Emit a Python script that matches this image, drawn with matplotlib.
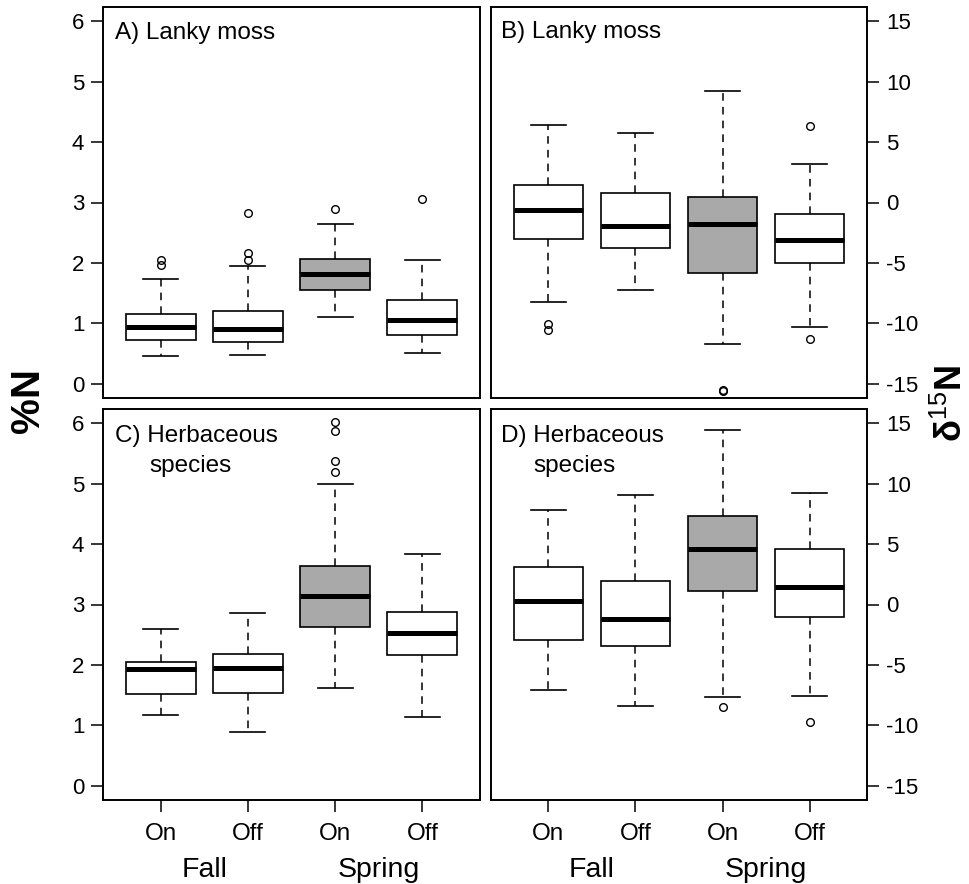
import numpy as np
import matplotlib.pyplot as plt

plt.rcParams['font.family'] = ['Liberation Sans', 'DejaVu Sans']
plt.rcParams['mathtext.fontset'] = 'custom'
plt.rcParams['mathtext.rm'] = 'Liberation Sans'
plt.rcParams['axes.unicode_minus'] = False

# --- data: [low whisker, Q1, median, Q3, high whisker] per group ---
groups = ["On", "Off", "On", "Off"]
seasons = ["Fall", "Spring"]
fill_colors = ["white", "white", "#a9a9a9", "white"]

moss_pctN = [[0.46, 0.72, 0.93, 1.16, 1.73],
             [0.47, 0.68, 0.91, 1.21, 1.95],
             [1.10, 1.55, 1.81, 2.07, 2.65],
             [0.51, 0.80, 1.05, 1.39, 2.05]]
moss_pctN_out = [[1.97, 2.05], [2.05, 2.16, 2.82], [2.89], [3.06]]

moss_d15N = [[-8.25, -3.03, -0.65, 1.45, 6.43],
             [-7.26, -3.80, -1.95, 0.79, 5.74],
             [-11.7, -5.87, -1.81, 0.46, 9.28],
             [-10.3, -5.04, -3.10, -0.98, 3.20]]
moss_d15N_out = [[-10.1, -10.6], [], [-15.5, -15.6], [6.3, -11.27]]

herb_pctN = [[1.17, 1.52, 1.93, 2.05, 2.60],
             [0.89, 1.54, 1.94, 2.18, 2.86],
             [1.62, 2.63, 3.14, 3.64, 4.99],
             [1.13, 2.16, 2.52, 2.87, 3.83]]
herb_pctN_out = [[], [], [5.19, 5.37, 5.87, 6.02], []]

herb_d15N = [[-7.07, -2.96, 0.33, 3.12, 7.87],
             [-8.37, -3.43, -1.19, 1.93, 9.09],
             [-7.68, 1.10, 4.56, 7.35, 14.49],
             [-7.62, -1.05, 1.49, 4.64, 9.25]]
herb_d15N_out = [[], [], [-8.51], [-9.70]]


def make_stats(rows, outs):
    stats = []
    for r, o in zip(rows, outs):
        stats.append({"whislo": r[0], "q1": r[1], "med": r[2], "q3": r[3],
                      "whishi": r[4], "fliers": np.array(o)})
    return stats


def draw_panel(ax, rows, outs):
    pos = np.arange(1, len(rows) + 1)
    bp = ax.bxp(make_stats(rows, outs), positions=pos, widths=0.8,
                capwidths=0.4, patch_artist=True, showfliers=True,
                boxprops=dict(edgecolor="black", linewidth=1.2),
                medianprops=dict(color="black", linewidth=3.6, solid_capstyle="butt"),
                whiskerprops=dict(color="black", linewidth=1.1, linestyle=(0, (5, 4))),
                capprops=dict(color="black", linewidth=1.2),
                flierprops=dict(marker="o", markerfacecolor="none",
                                markeredgecolor="black", markersize=5.5,
                                markeredgewidth=1.0))
    for patch, c in zip(bp["boxes"], fill_colors):
        patch.set_facecolor(c)
    ax.set_xlim(0.34, 4.66)
    for s in ax.spines.values():
        s.set_linewidth(1.4)


fig = plt.figure(figsize=(9.69, 8.84), dpi=100)
W, H = 969, 884


def box(x0, y0, x1, y1):
    return [x0 / W, (H - y1) / H, (x1 - x0) / W, (y1 - y0) / H]


axA = fig.add_axes(box(103, 7, 480, 398))
axB = fig.add_axes(box(491, 7, 867, 398))
axC = fig.add_axes(box(103, 409, 480, 800))
axD = fig.add_axes(box(491, 409, 867, 800))

draw_panel(axA, moss_pctN, moss_pctN_out)
draw_panel(axB, moss_d15N, moss_d15N_out)
draw_panel(axC, herb_pctN, herb_pctN_out)
draw_panel(axD, herb_d15N, herb_d15N_out)

for ax in (axA, axC):
    ax.set_ylim(-0.24, 6.24)
    ax.set_yticks(range(0, 7))
    ax.tick_params(axis="y", direction="out", length=8.5, width=1.1,
                   labelsize=16, pad=5)

for ax in (axB, axD):
    ax.set_ylim(-16.2, 16.2)
    ax.set_yticks(range(-15, 16, 5))
    ax.yaxis.tick_right()
    ax.tick_params(axis="y", direction="out", length=8.5, width=1.1,
                   labelsize=16, pad=5)

for ax in (axA, axB):
    ax.set_xticks([])
for ax in (axC, axD):
    ax.set_xticks(range(1, 5))
    ax.set_xticklabels(groups)
    ax.tick_params(axis="x", direction="out", length=8.5, width=1.1,
                   labelsize=17.5, pad=8)
    ax.text(1.5, -0.178, seasons[0], transform=ax.get_xaxis_transform(),
            ha="center", va="center", fontsize=20.5)
    ax.text(3.5, -0.178, seasons[1], transform=ax.get_xaxis_transform(),
            ha="center", va="center", fontsize=20.5)

axA.text(0.032, 0.933, "A) Lanky moss", transform=axA.transAxes,
         ha="left", va="center", fontsize=17.5)
axB.text(0.026, 0.935, "B) Lanky moss", transform=axB.transAxes,
         ha="left", va="center", fontsize=17.5)
axC.text(0.032, 0.931, "C) Herbaceous", transform=axC.transAxes,
         ha="left", va="center", fontsize=17.5)
axC.text(0.122, 0.853, "species", transform=axC.transAxes,
         ha="left", va="center", fontsize=17.5)
axD.text(0.026, 0.931, "D) Herbaceous", transform=axD.transAxes,
         ha="left", va="center", fontsize=17.5)
axD.text(0.112, 0.853, "species", transform=axD.transAxes,
         ha="left", va="center", fontsize=17.5)

fig.text(28 / W, 1 - 401 / H, "%N", rotation=90, ha="center", va="center",
         fontsize=29, fontweight="bold")
fig.text(952 / W, 1 - 403 / H, "δ$^{15}$N", rotation=90, ha="center",
         va="center", fontsize=26, fontweight="bold")

fig.savefig("out.png", dpi=100)
